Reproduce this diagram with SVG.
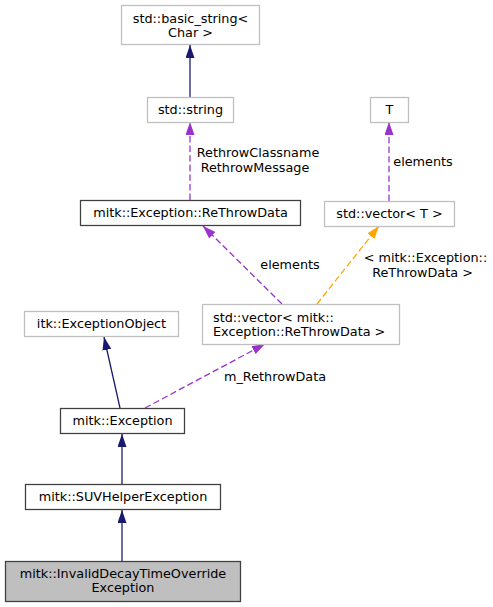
<svg xmlns="http://www.w3.org/2000/svg" width="493" height="607" viewBox="0 0 493 607">
<style>
text{font-family:"DejaVu Sans",sans-serif;font-size:12.8px;fill:#000}
.c{text-anchor:middle}
.ext{fill:#fff;stroke:#bfbfbf;stroke-width:1.28}
.int{fill:#fff;stroke:#404040;stroke-width:1.28}
.cur{fill:#bfbfbf;stroke:#404040;stroke-width:1.28}
.inh{fill:none;stroke:#191970;stroke-width:1.28}
.use{fill:none;stroke:#9a32cd;stroke-width:1.28;stroke-dasharray:6.4,3.2}
.tpl{fill:none;stroke:#ffa500;stroke-width:1.28;stroke-dasharray:6.4,3.2}
</style>
<defs>
<marker id="aInh" markerUnits="userSpaceOnUse" markerWidth="14" markerHeight="10" refX="13" refY="4.5" orient="auto"><path d="M0,0 L13,4.5 L0,9 z" fill="#191970"/></marker>
<marker id="aUse" markerUnits="userSpaceOnUse" markerWidth="14" markerHeight="10" refX="13" refY="4.5" orient="auto"><path d="M0,0 L13,4.5 L0,9 z" fill="#9a32cd"/></marker>
<marker id="aTpl" markerUnits="userSpaceOnUse" markerWidth="14" markerHeight="10" refX="13" refY="4.5" orient="auto"><path d="M0,0 L13,4.5 L0,9 z" fill="#ffa500"/></marker>
</defs>
<g id="connectors">
<line class="inh" x1="190" y1="97" x2="190" y2="45" marker-end="url(#aInh)"/>
<line class="use" x1="190" y1="200" x2="190" y2="122" marker-end="url(#aUse)"/>
<line class="use" x1="389" y1="201" x2="389" y2="122" marker-end="url(#aUse)"/>
<line class="use" x1="282" y1="304" x2="203" y2="226" marker-end="url(#aUse)"/>
<line class="tpl" x1="317" y1="304" x2="379" y2="226" marker-end="url(#aTpl)"/>
<line class="inh" x1="120" y1="408" x2="104" y2="337" marker-end="url(#aInh)"/>
<line class="use" x1="145" y1="408" x2="265" y2="344" marker-end="url(#aUse)"/>
<line class="inh" x1="122" y1="484" x2="122" y2="434" marker-end="url(#aInh)"/>
<line class="inh" x1="122" y1="561" x2="122" y2="510" marker-end="url(#aInh)"/>
<text class="c" x="258" y="156.5">RethrowClassname</text>
<text class="c" x="255" y="171.5">RethrowMessage</text>
<text class="c" x="423" y="165.5">elements</text>
<text class="c" x="290" y="268.5">elements</text>
<text class="c" x="425.5" y="261.5">&lt; mitk::Exception::</text>
<text class="c" x="422.5" y="276.5">ReThrowData &gt;</text>
<text class="c" x="275" y="380.5">m_RethrowData</text>
</g>
<g id="node_basic_string">
<rect class="ext" x="121.5" y="5.5" width="138" height="39"/>
<text class="c" x="190.5" y="22.5">std::basic_string&lt;</text>
<text class="c" x="190.5" y="37">Char &gt;</text>
</g>
<g id="node_string">
<rect class="ext" x="147.5" y="97.5" width="86" height="25"/>
<text class="c" x="190.5" y="114">std::string</text>
</g>
<g id="node_T">
<rect class="ext" x="370.5" y="97.5" width="38" height="25"/>
<text class="c" x="389.5" y="114">T</text>
</g>
<g id="node_rethrowdata">
<rect class="int" x="80.5" y="200.5" width="220" height="25"/>
<text class="c" x="190.5" y="217">mitk::Exception::ReThrowData</text>
</g>
<g id="node_vector_T">
<rect class="ext" x="324.5" y="201.5" width="130" height="25"/>
<text class="c" x="389.5" y="218">std::vector&lt; T &gt;</text>
</g>
<g id="node_vector_rethrow">
<rect class="ext" x="202.5" y="304.5" width="197" height="40"/>
<text x="213" y="321.5">std::vector&lt; mitk::</text>
<text x="213" y="336">Exception::ReThrowData &gt;</text>
</g>
<g id="node_itk">
<rect class="ext" x="24.5" y="311.5" width="154" height="25"/>
<text class="c" x="101.5" y="328">itk::ExceptionObject</text>
</g>
<g id="node_exception">
<rect class="int" x="60.5" y="408.5" width="124" height="25"/>
<text class="c" x="122.5" y="425">mitk::Exception</text>
</g>
<g id="node_suv">
<rect class="int" x="25.5" y="484.5" width="195" height="25"/>
<text class="c" x="123" y="501">mitk::SUVHelperException</text>
</g>
<g id="node_invalid">
<rect class="cur" x="5.5" y="561.5" width="235" height="40"/>
<text class="c" x="123" y="577.5">mitk::InvalidDecayTimeOverride</text>
<text class="c" x="123" y="592">Exception</text>
</g>
</svg>
